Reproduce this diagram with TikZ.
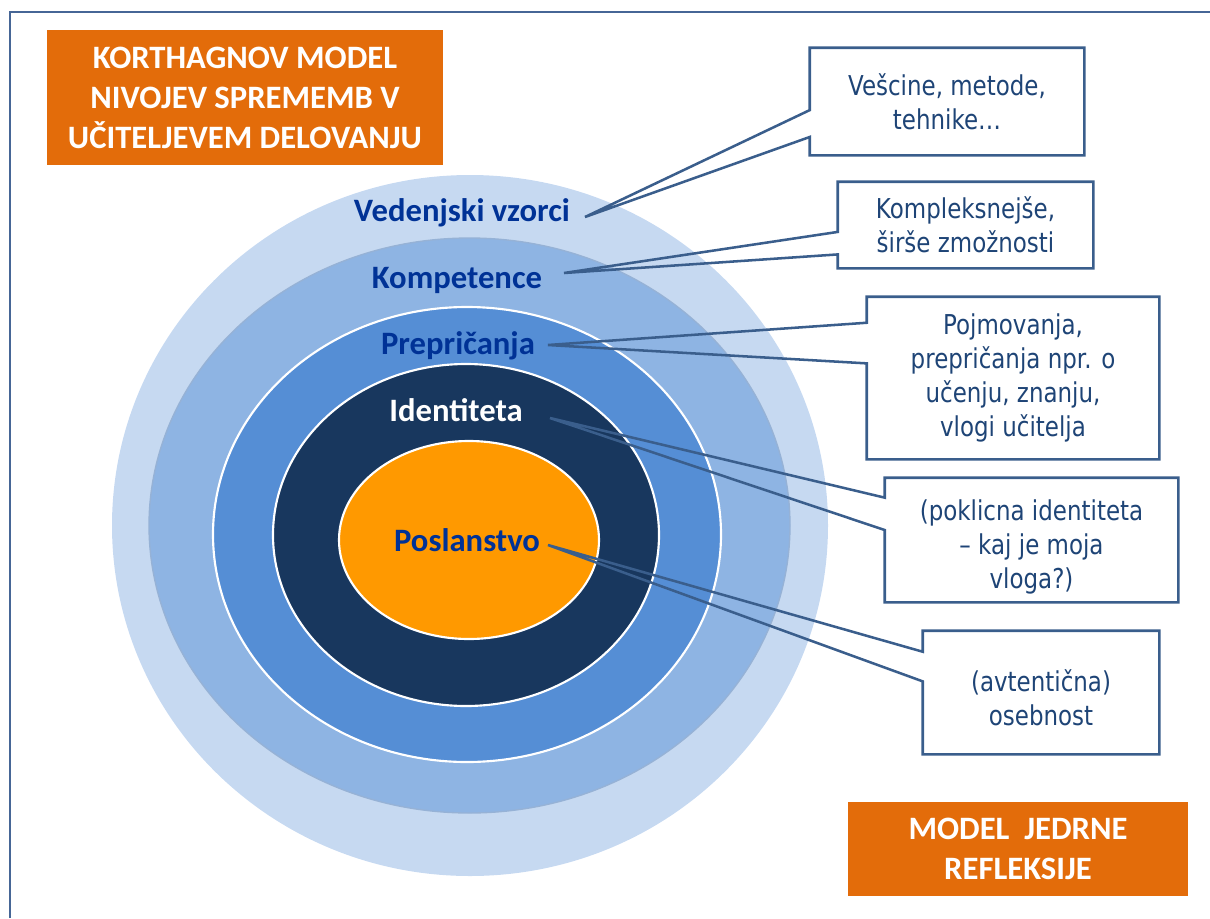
\documentclass[tikz,border=0pt]{standalone}
\usepackage{fontspec}
\setmainfont{Carlito}
\newfontfamily\calloutfont[FakeStretch=0.84]{DejaVu Sans}
\usepackage{tikz}
\usetikzlibrary{calc}

\definecolor{ringouter}{RGB}{198,217,241}
\definecolor{ringmid}{RGB}{142,180,227}
\definecolor{ringmidedge}{RGB}{150,178,214}
\definecolor{ringblue}{RGB}{85,142,213}
\definecolor{ringnavy}{RGB}{24,55,94}
\definecolor{ringcore}{RGB}{255,153,0}
\definecolor{labelblue}{RGB}{0,50,150}
\definecolor{noteline}{RGB}{58,94,140}
\definecolor{notetext}{RGB}{30,68,118}
\definecolor{titleorange}{RGB}{227,108,10}
\definecolor{frameline}{RGB}{70,102,150}

\newlength\unitpx
\setlength\unitpx{0.75pt}

\begin{document}
\begin{tikzpicture}[
    x=0.75pt, y=-0.75pt, % one unit = one pixel, y grows downwards
    level label/.style={font=\bfseries\fontsize{24.5}{29}\selectfont, text=labelblue, anchor=base}, % labels inside the rings
    note box/.style={inner sep=0pt, align=center, text=notetext,
      font=\calloutfont\fontsize{20.5}{25.5}\selectfont}, % text of the callouts
    note line/.style={draw=noteline, line width=1.9pt, line join=miter}, % callout outline
    orange box/.style={fill=titleorange, text=white, align=center, inner sep=0pt,
      font=\bfseries\fontsize{24.5}{30}\selectfont} % orange headings
]
    \useasboundingbox (0,0) rectangle (1210,918);

    % --- Frame ---
    \draw[frameline, line width=1.2pt] (10,918) |- (1210,12);

    % --- Rings, from the outside in ---
    \fill[ringouter] (470,525.5) ellipse [x radius=358, y radius=350.5];
    \filldraw[fill=ringmid, draw=ringmidedge, line width=1pt] (469.5,525.5) ellipse [x radius=320.5, y radius=287.5];
    \filldraw[fill=ringblue, draw=white, line width=1.6pt] (467,534.5) ellipse [x radius=254, y radius=227.5];
    \filldraw[fill=ringnavy, draw=white, line width=1.6pt] (466,535) ellipse [x radius=193, y radius=171];
    \filldraw[fill=ringcore, draw=white, line width=1.6pt] (469,540) ellipse [x radius=130, y radius=99];

    % --- Ring labels ---
    \node[level label] (vzorci) at (462,221) {Vedenjski vzorci};
    \node[level label] (kompet) at (457,288) {Kompetence};
    \node[level label] (prepric) at (458,354) {Prepričanja};
    \node[level label, text=white] (ident) at (456,421) {Identiteta};
    \node[level label] (poslan) at (467,551) {Poslanstvo};

    % Tips of the callout pointers
    \coordinate (tipA) at (585,217);
    \coordinate (tipB) at (564,273);
    \coordinate (tipC) at (548,345);
    \coordinate (tipD) at (550,418);
    \coordinate (tipE) at (548,545);

    % --- Callout boxes ---
    \node[note box, minimum width=274\unitpx, minimum height=107\unitpx] (notA) at (947,101.5)
      {Vešcine, metode,\\tehnike…};
    \node[note box, minimum width=255\unitpx, minimum height=86\unitpx] (notB) at (965.5,225)
      {Kompleksnejše,\\širše zmožnosti};
    \node[note box, minimum width=292\unitpx, minimum height=162\unitpx] (notC) at (1013,378)
      {Pojmovanja,\\prepričanja npr. o\\učenju, znanju,\\vlogi učitelja};
    \node[note box, minimum width=293\unitpx, minimum height=124\unitpx] (notD) at (1031.5,540)
      {\rule{0pt}{26pt}(poklicna identiteta\\– kaj je moja\\vloga?)};
    \node[note box, minimum width=236\unitpx, minimum height=123\unitpx] (notE) at (1041,692.5)
      {\rule{0pt}{24pt}(avtentična)\\osebnost};

    % --- Callout outlines with their wedges ---
    \draw[note line] (tipA) -- ($(notA.north west)!0.58!(notA.south west)$) |- (notA.north east)
      |- (notA.south west) -- ($(notA.north west)!0.83!(notA.south west)$) -- cycle;
    \draw[note line] (tipB) -- ($(notB.north west)!0.58!(notB.south west)$) |- (notB.north east)
      |- (notB.south west) -- ($(notB.north west)!0.84!(notB.south west)$) -- cycle;
    \draw[note line] (tipC) -- ($(notC.north west)!0.16!(notC.south west)$) |- (notC.north east)
      |- (notC.south west) -- ($(notC.north west)!0.41!(notC.south west)$) -- cycle;
    \draw[note line] (tipD) -- ($(notD.north west)!0.16!(notD.south west)$) |- (notD.north east)
      |- (notD.south west) -- ($(notD.north west)!0.42!(notD.south west)$) -- cycle;
    \draw[note line] (tipE) -- ($(notE.north west)!0.17!(notE.south west)$) |- (notE.north east)
      |- (notE.south west) -- ($(notE.north west)!0.41!(notE.south west)$) -- cycle;

    % --- Orange headings ---
    \node[orange box, minimum width=396\unitpx, minimum height=135\unitpx] (naslov) at (245,97.5)
      {KORTHAGNOV MODEL\\NIVOJEV SPREMEMB V\\UČITELJEVEM DELOVANJU};
    \node[orange box, minimum width=340\unitpx, minimum height=94\unitpx] (jedro) at (1018,849)
      {MODEL\ \ JEDRNE\\REFLEKSIJE};

\end{tikzpicture}
\end{document}
